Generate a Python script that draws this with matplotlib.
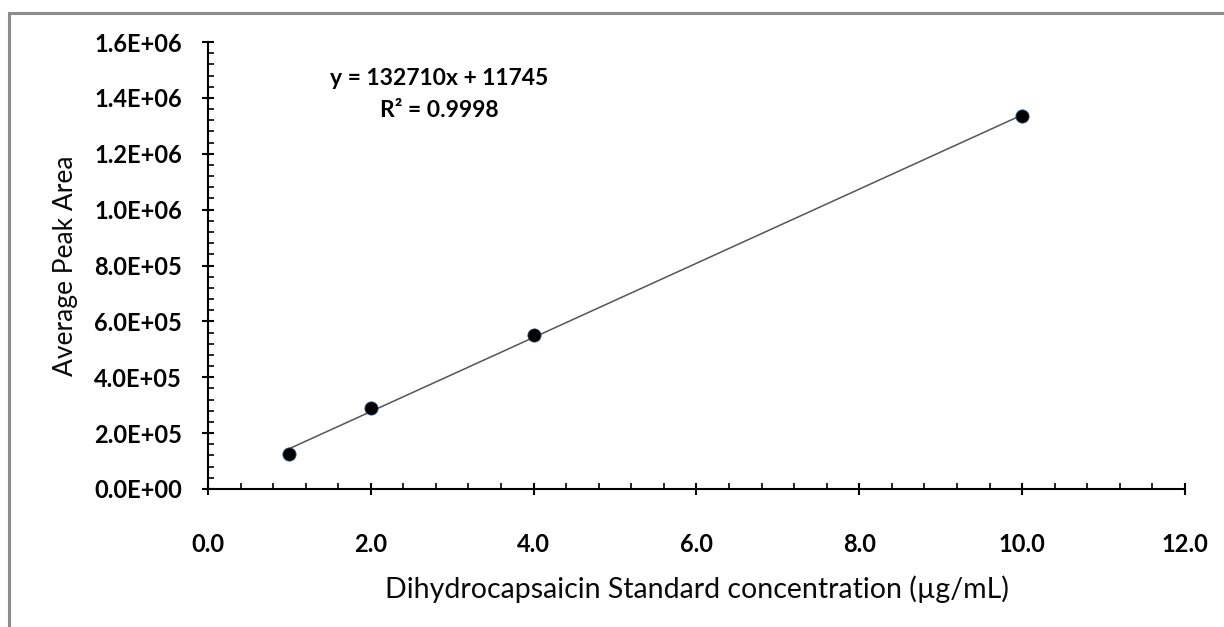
import numpy as np
import matplotlib.pyplot as plt
from matplotlib.patches import Rectangle
from matplotlib.ticker import MultipleLocator, FuncFormatter

plt.rcParams['font.family'] = ['Lato', 'DejaVu Sans']

# standard concentrations (ug/mL) and average peak areas
conc = [1.0, 2.0, 4.0, 10.0]
peak_area = [125000, 291000, 552000, 1335000]
slope = 132710
intercept = 11745
r2 = 0.9998

fig = plt.figure(figsize=(12.24, 6.27), dpi=100)
ax = fig.add_axes([0.1699, 0.2201, 0.7982, 0.7129])

# frame round the chart, cut by the right and bottom edges
fig.patches.append(Rectangle((9 / 1224, -0.1), 1.2, 1 - 13 / 627 + 0.1,
                             transform=fig.transFigure, fill=False,
                             edgecolor='#8c8c8c', lw=2.2))

xfit = np.array([min(conc), max(conc)])
ax.plot(xfit, slope * xfit + intercept, color='#555555', lw=1.1, zorder=2)
ax.plot(conc, peak_area, 'o', color='black', markersize=9.5,
        markeredgecolor='#2a4a70', markeredgewidth=0.6, zorder=3)

ax.set_xlim(0, 12)
ax.set_ylim(0, 1.6e6)
ax.xaxis.set_major_locator(MultipleLocator(2))
ax.xaxis.set_minor_locator(MultipleLocator(0.4))
ax.yaxis.set_major_locator(MultipleLocator(2e5))
ax.yaxis.set_minor_locator(MultipleLocator(4e4))
ax.xaxis.set_major_formatter(FuncFormatter(lambda v, p: '%.1f' % v))
ax.yaxis.set_major_formatter(FuncFormatter(lambda v, p: '%.1E' % v))

for s in ['top', 'right']:
    ax.spines[s].set_visible(False)
for s in ['left', 'bottom']:
    ax.spines[s].set_linewidth(1.5)

ax.tick_params(which='major', direction='inout', length=9, width=1.5)
ax.tick_params(which='minor', direction='in', length=4, width=1.2)
ax.tick_params(axis='x', which='major', pad=27)
ax.tick_params(axis='y', which='major', pad=14)
for lab in ax.get_xticklabels() + ax.get_yticklabels():
    lab.set_fontweight('bold')
    lab.set_fontsize(17)

ax.set_xlabel('Dihydrocapsaicin Standard concentration (\u00b5g/mL)', fontsize=20.5,
              labelpad=14, color='#0a0a0a')
ax.set_ylabel('Average Peak Area', fontsize=19, labelpad=12, color='#0a0a0a')

ax.text(0.237, 0.918, 'y = %dx + %d' % (slope, intercept), transform=ax.transAxes,
        ha='center', va='center', fontsize=16.5, fontweight='bold')
ax.text(0.237, 0.846, 'R\u00b2 = %.4f' % r2, transform=ax.transAxes,
        ha='center', va='center', fontsize=16.5, fontweight='bold')

fig.savefig('out.png', dpi=100)
